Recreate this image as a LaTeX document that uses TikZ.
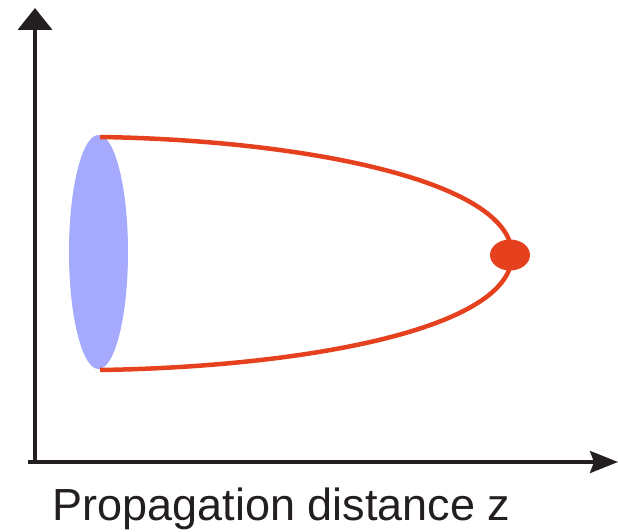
\documentclass[tikz,border=0pt]{standalone}
\usepackage{fontspec}
\setmainfont{Liberation Sans}
\usetikzlibrary{shapes.geometric,arrows.meta}
\definecolor{axiscol}{HTML}{231F20}
\definecolor{beamred}{HTML}{E6411E}
\definecolor{lensblue}{HTML}{A5AAFF}
\tikzset{
  axisline/.style={draw=axiscol, line width=4pt},
  beamline/.style={draw=beamred, line width=4.5pt},
  lensshape/.style={ellipse, fill=lensblue, inner sep=0pt, minimum width=59pt, minimum height=234pt},
  focusdot/.style={ellipse, fill=beamred, inner sep=0pt, minimum width=40pt, minimum height=31pt},
}
\begin{document}
\begin{tikzpicture}[x=1pt,y=-1pt]
\useasboundingbox (0,0) rectangle (618,532);
% axes
\coordinate (origin) at (35,462);
\coordinate (ytip) at (35,8);
\coordinate (xstart) at (28,462);
\coordinate (xtip) at (618,462);
\draw[axisline, -{Triangle[length=22pt,width=34pt]}] (35,464) -- (ytip);
\draw[axisline, line width=3.5pt, -{Stealth[length=28pt,width=22pt,inset=4pt]}] (xstart) -- (xtip);
% lens
\node[lensshape] (lens) at (98.5,252) {};
% beam
\coordinate (top) at (100,137);
\coordinate (bot) at (100,370);
\coordinate (tip) at (512,255);
\draw[beamline] (top) .. controls (300,140) and (512,180) .. (tip);
\draw[beamline] (bot) .. controls (300,367) and (512,330) .. (tip);
\node[focusdot] (focus) at (510,255) {};
% label
\node[anchor=base, inner sep=0pt, text=axiscol, font=\fontsize{45}{50}\selectfont] (label) at (281.5,520) {Propagation distance z};
\end{tikzpicture}
\end{document}
